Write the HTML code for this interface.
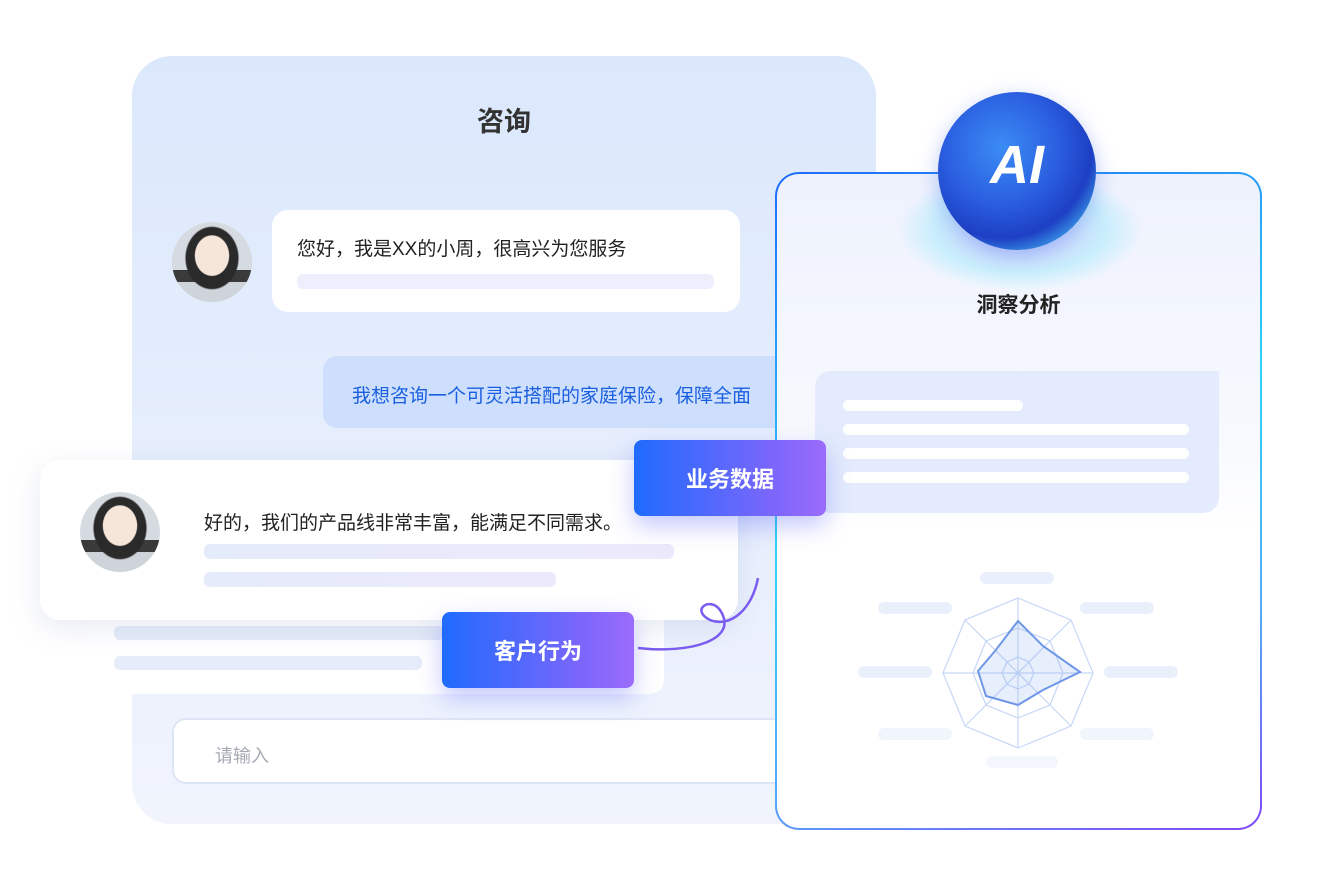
<!DOCTYPE html>
<html><head><meta charset="utf-8"><style>
body{margin:0;width:1320px;height:880px;background:#fff;position:relative;overflow:hidden;font-family:"Liberation Sans","Noto Sans CJK SC",sans-serif}
.a{position:absolute}
.main{left:132px;top:56px;width:744px;height:768px;border-radius:40px;background:linear-gradient(180deg,#dbe8fc 0%,#e8effd 60%,#f1f4fd 100%)}
.bar{position:absolute;border-radius:6px}
.avatar{border-radius:50%;background:radial-gradient(ellipse 22% 26% at 50% 42%,#f6e6da 0 95%,transparent 100%),radial-gradient(ellipse 34% 40% at 50% 45%,#2a2a2a 0 95%,transparent 100%),linear-gradient(180deg,#d6dbe1 60%,#3a3a3a 60% 75%,#cfd4da 75%)}
.btn{color:#fff;font-size:22px;font-weight:bold;display:flex;align-items:center;justify-content:center;border-radius:8px;background:linear-gradient(90deg,#1f6bfd,#7f66fb 75%,#9b6cfb);box-shadow:0 10px 24px rgba(90,100,250,.35)}
</style></head><body>
<div class="a main"></div>
<div class="a" style="left:132px;top:100px;width:744px;text-align:center;font-size:27px;font-weight:bold;color:#333">咨询</div>
<div class="a avatar" style="left:172px;top:222px;width:80px;height:80px"></div>
<div class="a" style="left:272px;top:210px;width:468px;height:102px;background:#fff;border-radius:16px"></div>
<div class="a" style="left:297px;top:234px;font-size:19px;color:#222">您好，我是XX的小周，很高兴为您服务</div>
<div class="bar" style="left:297px;top:274px;width:417px;height:15px;background:#edf0fc"></div>
<div class="a" style="left:323px;top:356px;width:460px;height:72px;background:#cddffc;border-radius:14px 0 0 14px"></div>
<div class="a" style="left:352px;top:381px;font-size:19px;color:#1a5fe0;white-space:nowrap;width:436px;overflow:hidden">我想咨询一个可灵活搭配的家庭保险，保障全面</div>
<div class="a" style="left:88px;top:600px;width:576px;height:94px;background:#fff;border-radius:0 0 14px 14px"></div>
<div class="bar" style="left:114px;top:626px;width:330px;height:14px;background:#e6ecf9"></div>
<div class="bar" style="left:114px;top:656px;width:308px;height:14px;background:#e6ecf9"></div>
<div class="a" style="left:40px;top:460px;width:698px;height:160px;background:#fff;border-radius:20px;box-shadow:0 8px 30px rgba(120,140,190,.18)"></div>
<div class="a avatar" style="left:80px;top:492px;width:80px;height:80px"></div>
<div class="a" style="left:204px;top:508px;font-size:19px;color:#222">好的，我们的产品线非常丰富，能满足不同需求。</div>
<div class="bar" style="left:204px;top:544px;width:470px;height:15px;background:linear-gradient(90deg,#e4ebfb,#ede9fc)"></div>
<div class="bar" style="left:204px;top:572px;width:352px;height:15px;background:linear-gradient(90deg,#e4ebfb,#ede9fc)"></div>
<div class="a" style="left:172px;top:718px;width:640px;height:66px;background:#fff;border:2px solid #dde5f5;border-radius:14px;box-sizing:border-box"></div>
<div class="a" style="left:215px;top:742px;font-size:18px;color:#a5a9b3">请输入</div>
<svg class="a" style="left:630px;top:570px" width="140" height="90"><path d="M8 78 C60 84 110 70 90 40 C80 26 60 40 80 50 C100 58 122 40 128 8" fill="none" stroke="#7b5cf0" stroke-width="2.5"/></svg>
<div class="a" style="left:775px;top:172px;width:487px;height:658px;border-radius:24px;background:linear-gradient(160deg,#1f6bfd,#2fd3f4 45%,#56a7f8 75%,#8248f8)"></div>
<div class="a" style="left:777px;top:174px;width:483px;height:654px;border-radius:22px;background:linear-gradient(180deg,#eef2fd 0%,#f7f9fe 40%,#fff 55%)"></div>
<div class="a" style="left:900px;top:170px;width:240px;height:120px;border-radius:50%;background:radial-gradient(ellipse,rgba(170,120,250,.35),rgba(80,220,250,.25) 50%,rgba(255,255,255,0) 72%)"></div>
<div class="a" style="left:938px;top:92px;width:158px;height:158px;border-radius:50%;background:radial-gradient(circle at 40% 35%,#3b8cf5 0%,#2b5fe0 40%,#1d3fc4 65%,#43b6f0 85%,#8fe3fb 100%);box-shadow:0 6px 20px rgba(80,120,240,.4)"></div>
<div class="a" style="left:938px;top:134px;width:158px;text-align:center;font-size:54px;font-weight:bold;font-style:italic;color:#fff">AI</div>
<div class="a" style="left:778px;top:289px;width:481px;text-align:center;font-size:21px;font-weight:bold;color:#222">洞察分析</div>
<div class="a" style="left:815px;top:371px;width:404px;height:142px;background:#e3ebfc;border-radius:16px 0 16px 16px"></div>
<div class="bar" style="left:843px;top:400px;width:180px;height:11px;background:#fff"></div>
<div class="bar" style="left:843px;top:424px;width:346px;height:11px;background:#fff"></div>
<div class="bar" style="left:843px;top:448px;width:346px;height:11px;background:#fff"></div>
<div class="bar" style="left:843px;top:472px;width:346px;height:11px;background:#fff"></div>
<svg class="a" style="left:778px;top:560px" width="481" height="220">
<g fill="#e9f0fc"><rect x="202" y="12" width="74" height="12" rx="6"/><rect x="100" y="42" width="74" height="12" rx="6"/><rect x="302" y="42" width="74" height="12" rx="6"/><rect x="80" y="106" width="74" height="12" rx="6"/><rect x="326" y="106" width="74" height="12" rx="6"/><rect x="100" y="168" width="74" height="12" rx="6" fill="#f1f6fd"/><rect x="302" y="168" width="74" height="12" rx="6" fill="#f1f6fd"/><rect x="208" y="196" width="72" height="12" rx="6" fill="#f3f7fd"/></g>
<g transform="translate(240,113)" fill="none" stroke="#c6d7f6" stroke-width="1.2">
<polygon points="0,-75 53,-53 75,0 53,53 0,75 -53,53 -75,0 -53,-53"/>
<polygon points="0,-45 32,-32 45,0 32,32 0,45 -32,32 -45,0 -32,-32"/>
<polygon points="0,-16 11,-11 16,0 11,11 0,16 -11,11 -16,0 -11,-11"/>
<line x1="0" y1="-75" x2="0" y2="75"/><line x1="-75" y1="0" x2="75" y2="0"/><line x1="-53" y1="-53" x2="53" y2="53"/><line x1="53" y1="-53" x2="-53" y2="53"/>
<polygon points="0,-52 25,-27 62,-1 25,17 0,32 -32,23 -40,-2 -23,-22" fill="rgba(120,160,240,.18)" stroke="#6f97e8" stroke-width="2"/>
</g></svg>
<div class="a btn" style="left:634px;top:440px;width:192px;height:76px">业务数据</div>
<div class="a btn" style="left:442px;top:612px;width:192px;height:76px">客户行为</div>
</body></html>
